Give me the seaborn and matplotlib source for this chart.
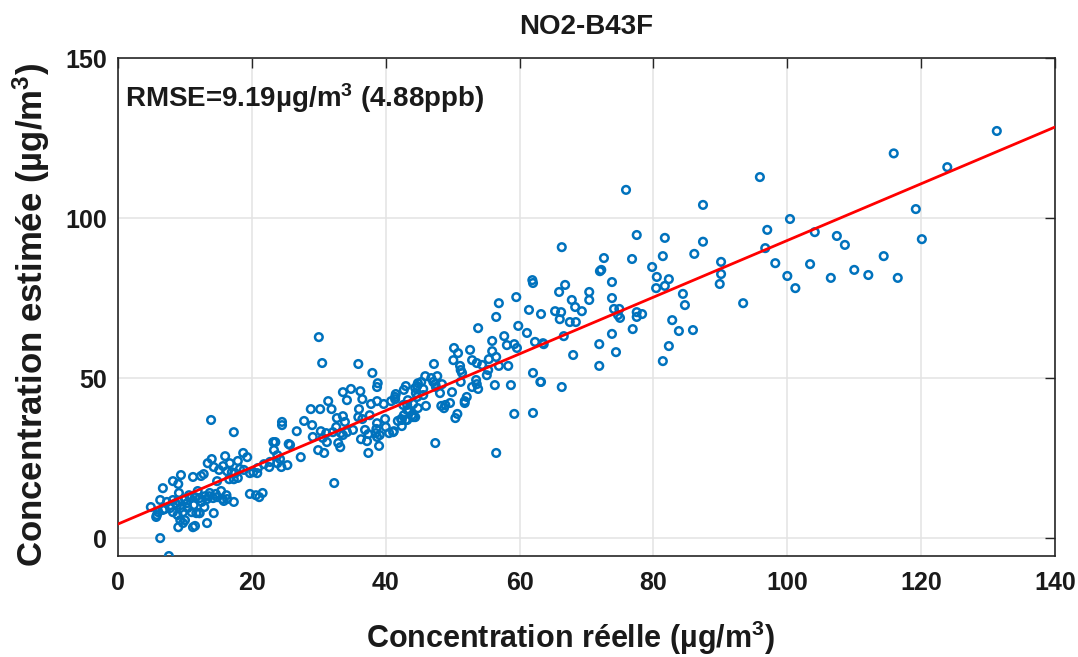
import numpy as np
import pandas as pd
import matplotlib
matplotlib.use('Agg')
import matplotlib.pyplot as plt
import seaborn as sns

# values (real, estimated), in ug/m3
high_pts = [(131.3, 127.2), (123.9, 115.9), (115.9, 120.2), (119.2, 102.8), (120.1, 93.4),
            (116.5, 81.3), (114.4, 88.1), (112.1, 82.2), (110.0, 83.8), (108.6, 91.6),
            (107.4, 94.4), (106.5, 81.3), (104.1, 95.6), (103.4, 85.6), (101.2, 78.1),
            (100.4, 99.7), (100.0, 81.9), (98.2, 85.9), (96.7, 90.6), (97.0, 96.3),
            (95.9, 112.8), (93.4, 73.4), (90.1, 86.3), (90.1, 82.5), (89.9, 79.4),
            (87.4, 104.1), (87.4, 92.6), (86.1, 88.8), (85.9, 65.0), (84.7, 72.8),
            (84.4, 76.3), (83.8, 64.7)]

upper_mid_pts = [(81.7, 93.8), (81.4, 88.1), (79.8, 84.7), (80.5, 81.6), (82.3, 80.9),
                 (81.7, 78.8), (80.4, 78.1), (82.8, 68.1), (82.3, 60.0), (81.4, 55.3),
                 (77.5, 94.7), (75.9, 108.8), (76.8, 87.2), (72.6, 87.5), (72.0, 83.4),
                 (72.2, 83.8), (73.8, 80.0), (73.8, 75.0), (74.1, 71.6), (74.9, 71.6),
                 (74.7, 69.7), (75.0, 68.8), (77.5, 70.6), (77.5, 69.1), (78.3, 70.0),
                 (76.9, 65.3), (73.8, 63.8), (74.4, 58.1), (71.9, 60.6), (71.9, 53.8),
                 (70.4, 76.9), (70.4, 74.4), (69.3, 70.9), (68.3, 72.2), (67.8, 74.4),
                 (67.5, 67.5), (68.4, 67.5), (68.0, 57.2), (66.8, 79.1), (66.3, 90.9),
                 (65.9, 76.9), (66.2, 70.6), (65.3, 70.9), (66.0, 68.4), (66.6, 63.1),
                 (66.3, 47.2), (63.5, 60.9), (63.2, 70.0), (63.2, 48.8), (63.6, 60.6),
                 (62.3, 61.3), (61.9, 80.6), (62.0, 79.7), (61.4, 71.3), (61.1, 64.1),
                 (62.0, 51.6), (63.1, 48.8), (62.0, 39.1)]

mid_pts = [(59.5, 75.3), (56.9, 73.4), (56.5, 69.1), (59.8, 66.3), (57.7, 63.1), (55.9, 61.6),
           (58.1, 60.3), (59.2, 60.6), (59.6, 59.4), (53.8, 65.6), (50.2, 59.4), (50.8, 57.8),
           (52.6, 58.8), (55.9, 58.4), (56.5, 56.6), (50.1, 55.6), (52.9, 55.6), (55.4, 55.9),
           (51.1, 53.8), (53.6, 54.7), (54.4, 54.1), (56.9, 53.8), (58.3, 53.8), (51.2, 52.5),
           (55.3, 52.5), (51.4, 51.6), (55.1, 50.9), (51.2, 48.8), (53.5, 49.4), (53.6, 48.1),
           (56.3, 47.8), (58.7, 47.8), (52.9, 47.2), (53.8, 46.6), (52.1, 44.1), (51.8, 42.8),
           (51.8, 42.2), (50.7, 38.8), (50.4, 37.5), (59.2, 38.8), (56.5, 26.6),
           (47.2, 54.4), (45.9, 50.6), (46.8, 50.0), (47.7, 50.6), (45.3, 48.8), (47.1, 48.8),
           (47.4, 48.1), (44.7, 47.5), (43.0, 47.5), (44.4, 46.9), (44.8, 48.4), (42.7, 46.3),
           (45.6, 46.6), (47.5, 47.2), (48.4, 48.1), (48.1, 45.3), (49.9, 45.6), (44.5, 45.3),
           (45.6, 44.7), (49.6, 42.2), (46.0, 41.3), (48.3, 41.3), (48.7, 40.6), (48.9, 41.6),
           (47.4, 29.7), (43.2, 41.6), (43.5, 40.0), (43.9, 38.4), (44.4, 37.8), (42.7, 38.4),
           (42.3, 37.2), (43.2, 36.9), (41.5, 45.0), (41.4, 43.4), (40.8, 42.8), (42.4, 35.0),
           (41.2, 33.4), (40.5, 32.8), (40.0, 34.7), (41.4, 44.1), (42.6, 41.6), (43.3, 43.1),
           (44.1, 41.9), (44.7, 44.1), (44.8, 40.6), (43.2, 40.0), (41.8, 36.6), (42.4, 36.9),
           (43.0, 36.9), (44.1, 37.8), (41.1, 33.1), (39.9, 37.2), (38.6, 34.1), (38.7, 35.9)]

lower_mid_pts = [(30.0, 62.8), (30.5, 54.7), (35.9, 54.4), (38.0, 51.6), (38.8, 48.4),
                 (38.7, 47.2), (33.6, 45.6), (34.8, 46.6), (36.2, 45.9), (34.2, 43.1),
                 (36.5, 43.4), (31.4, 42.8), (28.8, 40.3), (30.2, 40.3), (31.9, 40.3),
                 (36.0, 40.3), (37.8, 41.9), (38.7, 42.8), (39.7, 41.9), (27.8, 36.6),
                 (32.7, 37.5), (33.6, 38.1), (35.9, 37.8), (37.6, 38.4), (33.9, 36.3),
                 (32.6, 34.7), (36.5, 37.2), (29.0, 35.3), (26.7, 33.4), (30.3, 33.4),
                 (31.1, 32.8), (32.1, 33.1), (33.3, 32.8), (34.2, 33.1), (35.1, 33.8),
                 (36.9, 33.8), (37.4, 32.5), (38.5, 32.8), (39.1, 32.2), (29.1, 31.6),
                 (30.6, 31.3), (31.2, 30.0), (33.6, 32.2), (36.3, 30.9), (37.2, 30.3),
                 (38.7, 31.6), (29.9, 27.5), (30.8, 26.6), (32.9, 29.7), (33.2, 28.4),
                 (37.4, 26.6), (39.0, 28.8), (27.3, 25.3), (25.7, 29.1), (32.3, 17.2)]

low_pts = [(13.9, 36.9), (17.3, 33.1), (24.5, 36.3), (24.5, 35.3), (23.2, 30.0), (23.5, 30.0),
           (23.3, 27.5), (25.5, 29.4), (18.7, 26.6), (19.3, 25.3), (16.0, 25.6), (14.0, 24.7),
           (13.4, 23.4), (14.3, 22.2), (15.1, 21.3), (15.7, 22.5), (16.7, 23.4), (17.9, 24.1),
           (16.3, 20.9), (17.0, 20.6), (18.2, 21.6), (18.8, 21.3), (20.2, 20.6), (20.9, 21.9),
           (21.8, 23.1), (22.6, 22.2), (23.8, 23.4), (24.4, 22.2), (25.3, 22.8), (22.7, 23.8),
           (24.2, 24.7), (23.8, 25.9), (19.7, 20.3), (20.8, 20.3), (17.5, 20.3), (21.1, 12.8),
           (19.7, 13.8), (20.6, 13.4), (21.6, 14.1), (17.9, 18.8), (17.3, 18.4), (16.6, 18.4),
           (14.8, 17.8)]

dense_pts = [(9.4, 19.7), (8.2, 17.8), (9.0, 16.9), (11.2, 19.1), (12.4, 19.4), (12.8, 20.0),
             (6.7, 15.6), (9.1, 14.1), (6.3, 11.9), (7.3, 11.3), (8.2, 11.9), (4.9, 9.7),
             (5.8, 7.2), (5.7, 6.6), (6.0, 8.1), (6.7, 8.8), (7.8, 9.4), (8.8, 10.3), (9.3, 9.4),
             (10.3, 10.9), (10.8, 12.5), (11.5, 12.8), (12.2, 12.5), (13.0, 13.1), (13.7, 14.1),
             (14.2, 12.5), (14.8, 12.8), (15.6, 12.2), (16.3, 12.2), (15.8, 11.6), (16.2, 13.4),
             (17.3, 11.3), (8.2, 8.1), (8.9, 7.2), (9.7, 8.1), (10.4, 9.4), (11.0, 8.1),
             (9.3, 5.6), (11.7, 7.8), (12.5, 11.3), (13.3, 12.2), (10.0, 5.6), (9.0, 3.4),
             (9.7, 4.7), (11.2, 3.4), (12.2, 7.8), (13.3, 4.7), (14.3, 7.8), (6.3, 0.0),
             (7.6, -5.6), (8.6, 10.9), (10.6, 13.4), (11.9, 14.7), (13.6, 13.1), (7.0, 9.1),
             (11.3, 10.3), (12.9, 9.7), (14.6, 13.8), (15.4, 14.7), (10.0, 12.2), (9.0, 11.6),
             (12.1, 7.8), (11.5, 3.8)]

# regression line
fit_slope = 0.886
fit_intercept = 4.4
fit_x = [0, 140]

title = "NO2-B43F"
rmse_text = r"RMSE=9.19µg/m$^{3}$ (4.88ppb)"
xlabel = r"Concentration réelle (µg/m$^{3}$)"
ylabel = r"Concentration estimée (µg/m$^{3}$)"

pts = np.array(high_pts + upper_mid_pts + mid_pts + lower_mid_pts + low_pts + dense_pts)
df = pd.DataFrame({"real": pts[:, 0], "est": pts[:, 1]})
fit_y = [fit_intercept + fit_slope * v for v in fit_x]

sns.set_theme(style='white')
plt.rcParams['font.family'] = ['Liberation Sans', 'DejaVu Sans']
plt.rcParams['font.weight'] = 'bold'
plt.rcParams['axes.labelweight'] = 'bold'
plt.rcParams['axes.titleweight'] = 'bold'
plt.rcParams['mathtext.fontset'] = 'custom'
plt.rcParams['mathtext.rm'] = 'Liberation Sans:bold'
plt.rcParams['mathtext.it'] = 'Liberation Sans:bold'
plt.rcParams['mathtext.bf'] = 'Liberation Sans:bold'
plt.rcParams['mathtext.default'] = 'rm'

fig = plt.figure(figsize=(10.78, 6.57), dpi=100)
ax = fig.add_axes([0.1095, 0.1537, 0.8692, 0.758])

sns.scatterplot(data=df, x="real", y="est", ax=ax, marker='o', s=30,
                fc='none', ec='#0072BD', linewidth=1.8, zorder=3)
sns.lineplot(x=fit_x, y=fit_y, ax=ax, color='red', lw=2, zorder=4)

ax.set_xlim(0, 140)
ax.set_ylim(-5.6, 150)
ax.set_xticks(range(0, 141, 20))
ax.set_yticks([0, 50, 100, 150])
ax.grid(True, color='#e3e3e3', lw=1.1)
ax.set_axisbelow(True)

for sp in ax.spines.values():
    sp.set_color('#262626')
    sp.set_linewidth(1.2)
ax.tick_params(direction='in', length=7, width=1, top=True, right=True,
               labelsize=18, colors='#262626')
ax.tick_params(axis='x', pad=11)
ax.tick_params(axis='y', pad=8)
for lab in ax.get_xticklabels() + ax.get_yticklabels():
    lab.set_color('#1a1a1a')

ax.set_title(title, fontsize=20, pad=17, color='#1a1a1a')
ax.set_xlabel(xlabel, fontsize=22, color='#1a1a1a')
ax.set_ylabel(ylabel, fontsize=25, color='#1a1a1a')
ax.xaxis.set_label_coords(0.483, -0.125)
ax.yaxis.set_label_coords(-0.0704, 0.485)

ax.text(0.0075, 0.92, rmse_text, transform=ax.transAxes, fontsize=20,
        ha='left', va='center', color='#1a1a1a')

fig.savefig('out.png', dpi=100)
